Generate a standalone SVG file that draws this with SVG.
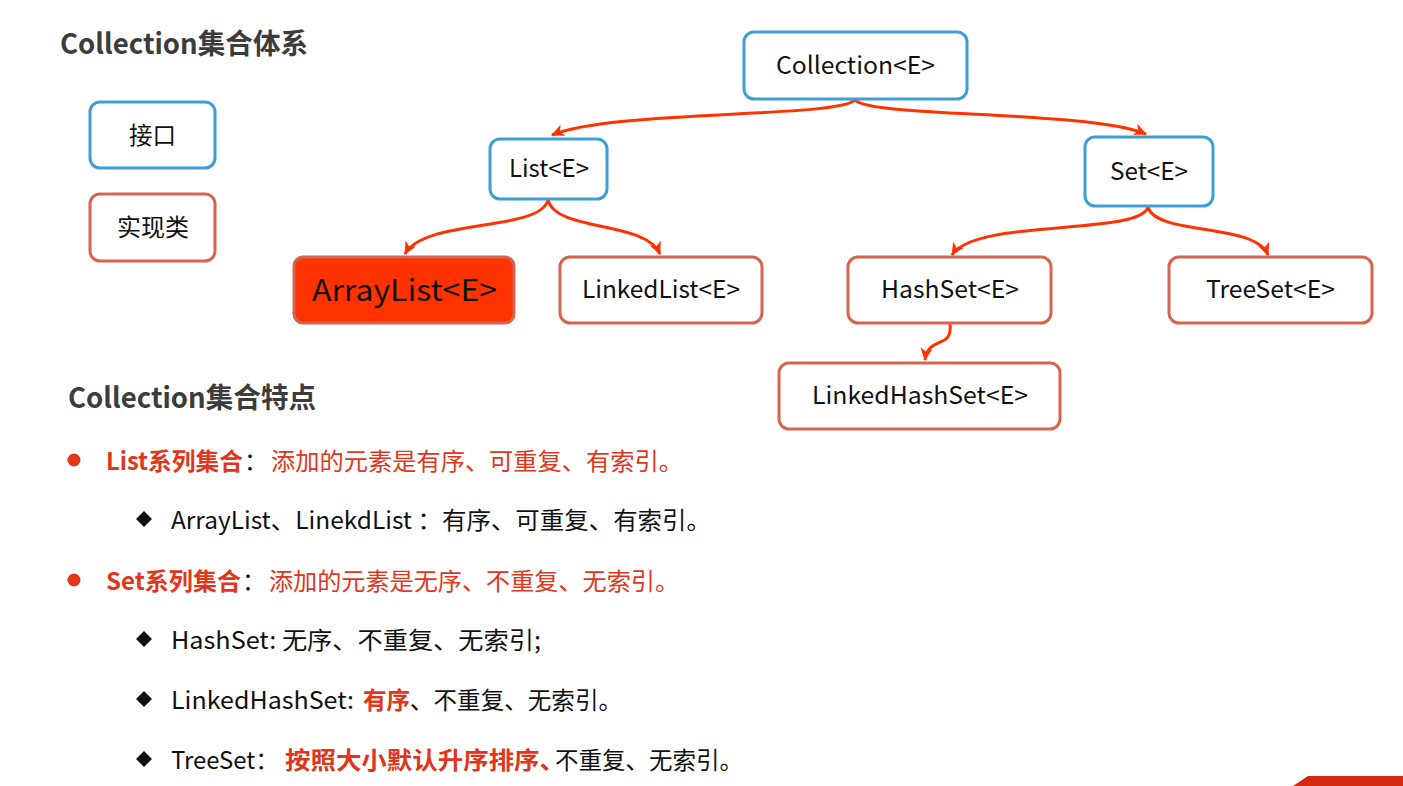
<svg xmlns="http://www.w3.org/2000/svg" width="1403" height="786" viewBox="0 0 1403 786">
<style>
.box{fill:#fff;stroke-width:3}
.ifc{stroke:#3f9fd3}
.impl{stroke:#d6654f}
.nt{font-family:"Noto Sans CJK SC","Noto Sans",sans-serif;font-size:24px;fill:#111}
.title{font-family:"Noto Sans CJK SC","Noto Sans",sans-serif;font-size:28px;font-weight:bold;fill:#3c3c3c}
.tx{font-family:"Noto Sans CJK SC","Noto Sans",sans-serif;font-size:24px;fill:#111}
.red{fill:#e0361c}
.b{font-weight:bold}
.conn path{fill:none;stroke:#ff3300;stroke-width:3;marker-end:url(#arr)}
</style>
<defs>
<marker id="arr" markerUnits="userSpaceOnUse" markerWidth="14" markerHeight="14" refX="12" refY="7" orient="auto" viewBox="0 0 14 14">
<path d="M0,1 L13,7 L0,13 L3.5,7 z" fill="#ff3300"/>
</marker>
</defs>
<rect width="1403" height="786" fill="#fff"/>

<text class="title" x="60" y="54" textLength="248" lengthAdjust="spacingAndGlyphs">Collection集合体系</text>

<g id="legend-interface">
<rect class="box ifc" x="90" y="102" width="125" height="66" rx="10"/>
<text class="nt" x="129" y="144" textLength="47" lengthAdjust="spacingAndGlyphs">接口</text>
</g>
<g id="legend-impl">
<rect class="box impl" x="90" y="194" width="125" height="67" rx="10"/>
<text class="nt" x="117" y="236" textLength="72" lengthAdjust="spacingAndGlyphs">实现类</text>
</g>

<g class="conn" id="connectors">
<path d="M855,100 C838,118 610,110 552,135"/>
<path d="M855,100 C872,118 1090,110 1146,134"/>
<path d="M548,200 C540,232 425,218 405,254"/>
<path d="M548,200 C556,232 645,220 660,254"/>
<path d="M1148,207 C1140,236 975,218 952,255"/>
<path d="M1148,207 C1156,236 1255,222 1268,255"/>
<path d="M950,324 C953,350 928,335 925,360"/>
</g>

<g id="collection">
<rect class="box ifc" x="744" y="32" width="223" height="67" rx="10"/>
<text class="nt" x="776" y="74" textLength="159" lengthAdjust="spacingAndGlyphs">Collection&lt;E&gt;</text>
</g>
<g id="list">
<rect class="box ifc" x="490" y="139" width="117" height="60" rx="10"/>
<text class="nt" x="509" y="177" textLength="80" lengthAdjust="spacingAndGlyphs">List&lt;E&gt;</text>
</g>
<g id="set">
<rect class="box ifc" x="1085" y="137" width="128" height="69" rx="10"/>
<text class="nt" x="1110" y="180" textLength="78" lengthAdjust="spacingAndGlyphs">Set&lt;E&gt;</text>
</g>
<g id="arraylist">
<rect x="294" y="257" width="220" height="66" rx="9" fill="#ff3300" stroke="#d6654f" stroke-width="3"/>
<text class="nt" x="312" y="301" style="font-size:30px" textLength="185" lengthAdjust="spacingAndGlyphs">ArrayList&lt;E&gt;</text>
</g>
<g id="linkedlist">
<rect class="box impl" x="560" y="257" width="202" height="66" rx="10"/>
<text class="nt" x="582" y="298" textLength="158" lengthAdjust="spacingAndGlyphs">LinkedList&lt;E&gt;</text>
</g>
<g id="hashset">
<rect class="box impl" x="848" y="257" width="203" height="66" rx="10"/>
<text class="nt" x="881" y="298" textLength="138" lengthAdjust="spacingAndGlyphs">HashSet&lt;E&gt;</text>
</g>
<g id="treeset">
<rect class="box impl" x="1169" y="257" width="203" height="66" rx="10"/>
<text class="nt" x="1206" y="298" textLength="129" lengthAdjust="spacingAndGlyphs">TreeSet&lt;E&gt;</text>
</g>
<g id="linkedhashset">
<rect class="box impl" x="779" y="363" width="281" height="66" rx="10"/>
<text class="nt" x="812" y="404" textLength="216" lengthAdjust="spacingAndGlyphs">LinkedHashSet&lt;E&gt;</text>
</g>

<text class="title" x="68" y="408" textLength="248" lengthAdjust="spacingAndGlyphs">Collection集合特点</text>

<circle cx="74" cy="460" r="6.5" fill="#e0361c"/>
<text class="tx red b" x="106" y="470" textLength="137" lengthAdjust="spacingAndGlyphs">List系列集合</text>
<text class="tx" x="244" y="470" fill="#333">：</text>
<text class="tx red" x="271" y="470" textLength="412" lengthAdjust="spacingAndGlyphs">添加的元素是有序、可重复、有索引。</text>

<path d="M144,511 L152,519 L144,527 L136,519 z" fill="#111"/>
<text class="tx" x="171" y="529" textLength="540" lengthAdjust="spacingAndGlyphs">ArrayList、LinekdList ：有序、可重复、有索引。</text>

<circle cx="74" cy="580" r="6.5" fill="#e0361c"/>
<text class="tx red b" x="106" y="590" textLength="135" lengthAdjust="spacingAndGlyphs">Set系列集合</text>
<text class="tx" x="242" y="590" fill="#333">：</text>
<text class="tx red" x="269" y="590" textLength="410" lengthAdjust="spacingAndGlyphs">添加的元素是无序、不重复、无索引。</text>

<path d="M144,631 L152,639 L144,647 L136,639 z" fill="#111"/>
<text class="tx" x="171" y="649" textLength="370" lengthAdjust="spacingAndGlyphs">HashSet: 无序、不重复、无索引;</text>

<path d="M144,691 L152,699 L144,707 L136,699 z" fill="#111"/>
<text class="tx" x="171" y="709" textLength="183" lengthAdjust="spacingAndGlyphs">LinkedHashSet:</text>
<text class="tx red b" x="363" y="709" textLength="47" lengthAdjust="spacingAndGlyphs">有序</text>
<text class="tx" x="410" y="709" textLength="212" lengthAdjust="spacingAndGlyphs">、不重复、无索引。</text>

<path d="M144,751 L152,759 L144,767 L136,759 z" fill="#111"/>
<text class="tx" x="171" y="769" textLength="108" lengthAdjust="spacingAndGlyphs">TreeSet：</text>
<text class="tx red b" x="285" y="769" textLength="280" lengthAdjust="spacingAndGlyphs">按照大小默认升序排序、</text>
<text class="tx" x="555" y="769" textLength="188" lengthAdjust="spacingAndGlyphs">不重复、无索引。</text>

<polygon points="1293,786 1308,776 1403,776 1403,786" fill="#d42a10"/>
</svg>
